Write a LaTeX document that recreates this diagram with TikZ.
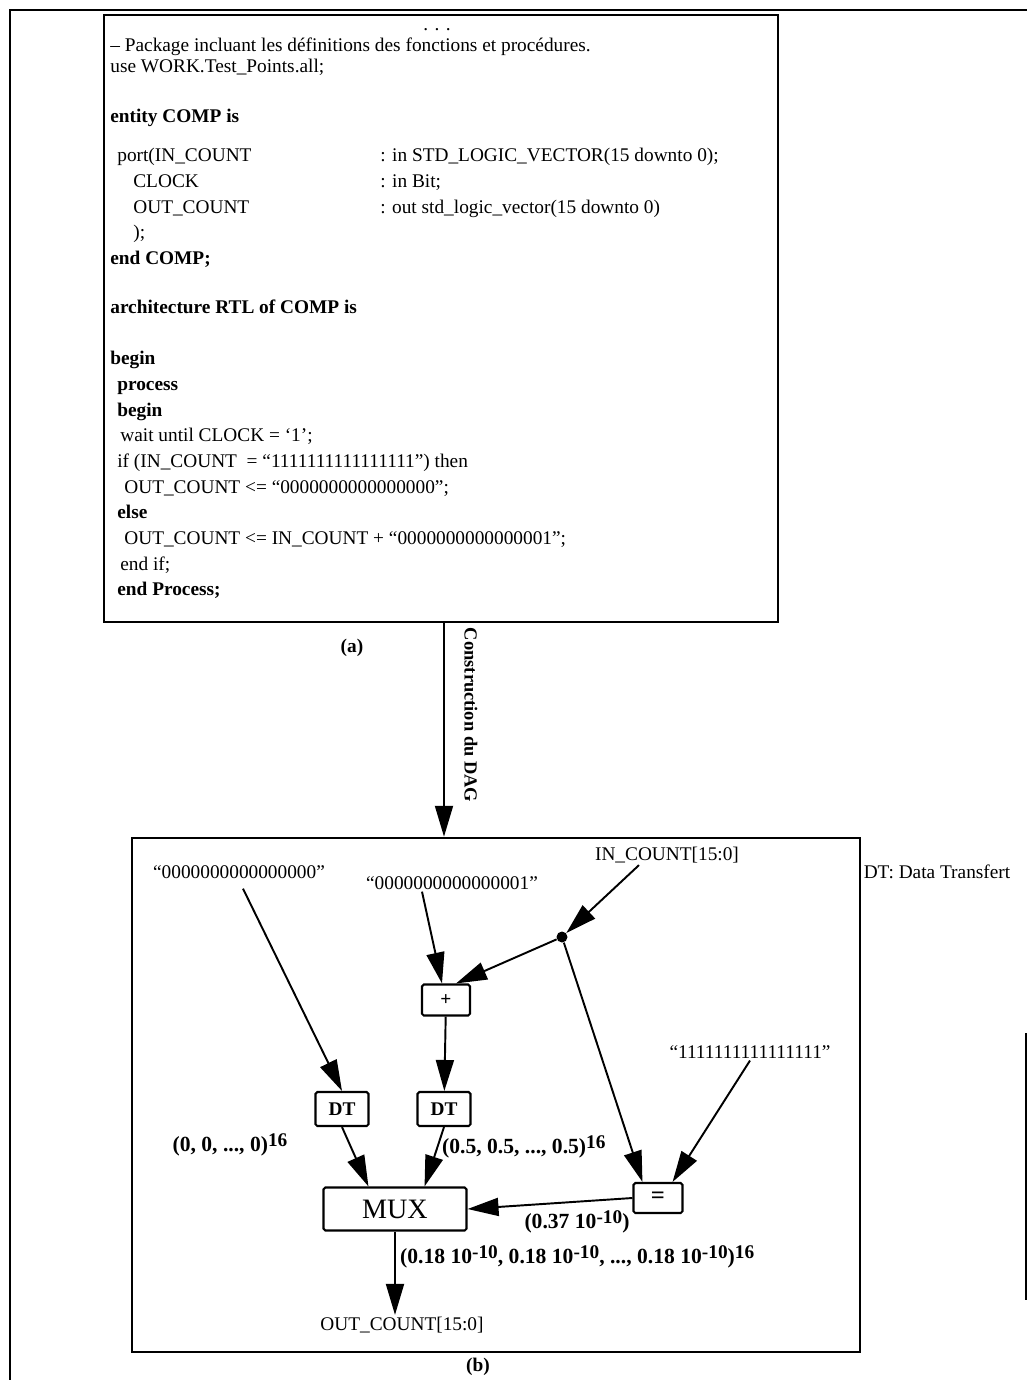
\documentclass[tikz,border=0pt]{standalone}
\usepackage{fontspec}
\setmainfont{Liberation Serif}
\usetikzlibrary{arrows.meta,calc}
\definecolor{vhInk}{HTML}{000000}
\tikzset{
  vh frame/.style={draw=vhInk, line width=1.4pt},
  vh panel/.style={draw=vhInk, line width=1.5pt, inner sep=0pt},
  vh code/.style={anchor=base west, inner sep=0pt, font=\fontsize{11}{13}\selectfont, text=vhInk},
  vh op/.style={draw=vhInk, line width=1.2pt, rounded corners=1pt, inner sep=0pt, font=\fontsize{11}{13}\selectfont\bfseries},
  vh label/.style={inner sep=1pt, font=\fontsize{11}{13}\selectfont\bfseries, text=vhInk},
  vh prob/.style={inner sep=1pt, font=\fontsize{12.3}{14}\selectfont\bfseries, text=vhInk},
  vh text/.style={inner sep=1pt, font=\fontsize{11}{13}\selectfont, text=vhInk},
  vh edge/.style={draw=vhInk, line width=1.1pt},
  vh arrow/.style={vh edge, -{Triangle[length=0.62cm, width=0.36cm]}},
}
\newcommand{\vhsup}[1]{\raisebox{0.55ex}{\fontsize{11}{12}\selectfont #1}}

\begin{document}
\begin{tikzpicture}[x=0.02cm, y=-0.02cm]
  \useasboundingbox (0,0) rectangle (1027,1380);

  % Outer frame, only the parts that show
  \draw[vh frame] (10,1380) -- (10,10) -- (1027,10);
  \draw[vh frame] (1026,1033) -- (1026,1300);

  % (a) VHDL source
  \node[vh panel, minimum width=13.48cm, minimum height=12.14cm] (boxa) at (441,318.5) {};
  \node[vh text] (dots) at (437,30) {. . .};
  \foreach \yy/\xx/\txt [count=\i] in {
    51/110/{– Package incluant les définitions des fonctions et procédures.},
    72/110/{use WORK.Test\_Points.all;},
    122/110/{\textbf{entity COMP is}},
    161/117/{port(IN\_COUNT},
    187/133/{CLOCK},
    213/133/{OUT\_COUNT},
    238/133/{);},
    264/110/{\textbf{end COMP;}},
    313/110/{\textbf{architecture RTL of COMP is}},
    364/110/{\textbf{begin}},
    390/117/{\textbf{process}},
    416/117/{\textbf{begin}},
    441/120/{wait until CLOCK = ‘1’;},
    467/117/{if (IN\_COUNT\ \ = “1111111111111111”) then},
    493/124/{OUT\_COUNT <= “0000000000000000”;},
    518/117/{\textbf{else}},
    544/124/{OUT\_COUNT <= IN\_COUNT + “0000000000000001”;},
    570/120/{end if;},
    595/117/{\textbf{end Process;}}}
    \node[vh code] (code\i) at (\xx,\yy) {\txt};
  \foreach \yy/\txt [count=\i] in {
    161/{: in STD\_LOGIC\_VECTOR(15 downto 0);},
    187/{: in Bit;},
    213/{: out std\_logic\_vector(15 downto 0)}}
    \node[vh code] (type\i) at (380,\yy) {\txt};
  \node[vh label] (capa) at (352,648) {(a)};

  % DAG construction
  \coordinate (link) at (444,0);
  \node[vh panel, minimum width=14.56cm, minimum height=10.28cm] (boxb) at (496,1095) {};
  \draw[vh arrow] (boxa.south -| link) -- (boxb.north -| link);
  \node[vh label, font=\fontsize{10.5}{12}\selectfont\bfseries, rotate=-90] (cons) at (471,715) {Construction du DAG};
  \node[vh label] (capb) at (478,1367) {(b)};
  \node[vh text] (legend) at (937,872) {DT: Data Transfert};

  % (b) nodes
  \node[vh text] (zero) at (239,872) {“0000000000000000”};
  \node[vh text] (one) at (452,883) {“0000000000000001”};
  \node[vh text] (in) at (667,855) {IN\_COUNT[15:0]};
  \node[vh text] (ones) at (750,1052) {“1111111111111111”};
  \node[circle, fill=vhInk, minimum size=0.22cm, inner sep=0pt] (tap) at (562,937) {};
  \node[vh op, minimum width=0.96cm, minimum height=0.62cm] (plus) at (446,1000) {+};
  \node[vh op, minimum width=1.06cm, minimum height=0.68cm] (dt1) at (342,1109) {DT};
  \node[vh op, minimum width=1.06cm, minimum height=0.68cm] (dt2) at (444,1109) {DT};
  \node[vh op, minimum width=2.86cm, minimum height=0.86cm, font=\fontsize{16}{18}\selectfont] (mux) at (395,1209) {MUX};
  \node[vh op, minimum width=0.98cm, minimum height=0.6cm, font=\fontsize{14}{16}\selectfont\bfseries] (eq) at (658,1198) {=};
  \node[vh text] (out) at (402,1325) {OUT\_COUNT[15:0]};

  % (b) probabilities
  \node[vh prob] (pzero) at (230,1145) {(0, 0, ..., 0)\vhsup{16}};
  \node[vh prob, anchor=west] (phalf) at (440,1147) {(0.5, 0.5, ..., 0.5)\vhsup{16}};
  \node[vh prob] (peq) at (577,1222) {(0.37 10\vhsup{-10})};
  \node[vh prob, anchor=west] (pout) at (398,1257) {(0.18 10\vhsup{-10}, 0.18 10\vhsup{-10}, ..., 0.18 10\vhsup{-10})\vhsup{16}};

  % (b) connectors
  \draw[vh arrow] ($(in.south)+(-28,0)$) -- (tap);
  \draw[vh arrow] (tap) -- ($(plus.north)+(10,0)$);
  \draw[vh arrow] (tap) -- ($(eq.north west)+(10,0)$);
  \draw[vh arrow] ($(one.south)+(-30,0)$) -- ($(plus.north)+(-4,0)$);
  \draw[vh arrow] ($(zero.south)+(4,8)$) -- (dt1.north);
  \draw[vh arrow] (plus) -- (dt2);
  \draw[vh arrow] (dt1.south) -- ($(mux.north west)+(46,0)$);
  \draw[vh arrow] (dt2.south) -- ($(mux.north east)+(-43,0)$);
  \draw[vh arrow] (ones.south) -- ($(eq.north east)+(-11,0)$);
  \draw[vh arrow] (eq.west) -- (mux.east);
  \draw[vh arrow] (mux.south) -- (mux.south |- out.north);
\end{tikzpicture}
\end{document}
